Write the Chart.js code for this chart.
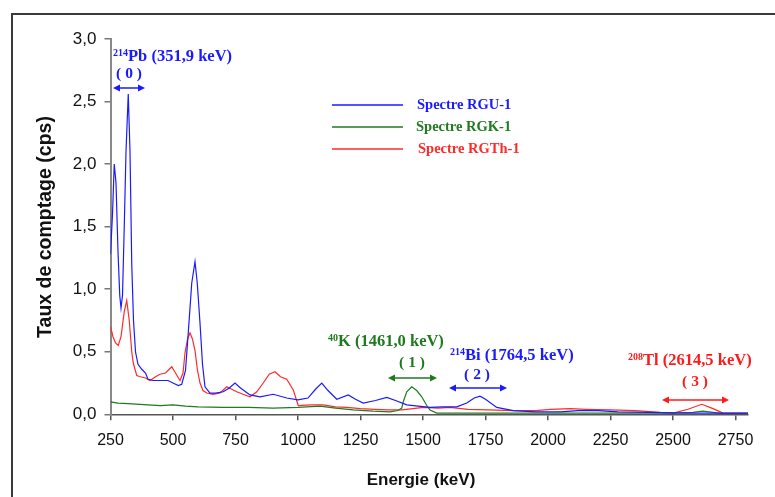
<!DOCTYPE html>
<html>
<head>
<meta charset="utf-8">
<script src="https://cdn.jsdelivr.net/npm/chart.js@4.4.1/dist/chart.umd.min.js"></script>
<style>
  html, body { margin: 0; padding: 0; background: #fff; }
  #wrap { width: 775px; height: 497px; }
</style>
</head>
<body>
<div id="wrap"><canvas id="graph" width="775" height="497"></canvas></div>
<script>
// energies (keV) and counting rates (cps)
var energyU = [250, 258, 265, 272, 280, 287, 292, 298, 305, 312, 321, 328, 335, 342, 350, 360, 375, 390, 400, 420, 440, 461, 480, 500, 521, 535, 550, 561, 575, 588, 597, 608, 618, 628, 648, 670, 701, 725, 748, 770, 808, 848, 901, 955, 1000, 1040, 1070, 1095, 1120, 1155, 1201, 1230, 1261, 1310, 1355, 1390, 1435, 1480, 1528, 1580, 1635, 1675, 1705, 1728, 1750, 1795, 1861, 1950, 2050, 2120, 2200, 2280, 2400, 2550, 2650, 2800];
var countsU = [1.28, 1.6, 2.0, 1.85, 1.3, 0.95, 0.85, 0.95, 1.5, 2.1, 2.56, 2.1, 1.2, 0.75, 0.5, 0.4, 0.36, 0.33, 0.28, 0.27, 0.27, 0.27, 0.27, 0.25, 0.23, 0.24, 0.35, 0.65, 1.05, 1.22, 1.05, 0.73, 0.4, 0.22, 0.17, 0.17, 0.18, 0.21, 0.25, 0.21, 0.155, 0.14, 0.16, 0.13, 0.115, 0.13, 0.2, 0.25, 0.19, 0.12, 0.155, 0.12, 0.09, 0.11, 0.135, 0.11, 0.075, 0.065, 0.055, 0.06, 0.06, 0.09, 0.13, 0.145, 0.12, 0.055, 0.03, 0.02, 0.02, 0.03, 0.03, 0.02, 0.015, 0.01, 0.01, 0.01];

var energyK = [250, 280, 320, 400, 450, 500, 550, 600, 700, 800, 900, 1000, 1088, 1150, 1221, 1300, 1368, 1400, 1415, 1421, 1435, 1455, 1475, 1495, 1515, 1528, 1555, 1700, 2000, 2200, 2500, 2580, 2620, 2660, 2700, 2800];
var countsK = [0.10, 0.09, 0.085, 0.075, 0.07, 0.075, 0.065, 0.06, 0.055, 0.055, 0.05, 0.055, 0.065, 0.05, 0.035, 0.025, 0.02, 0.03, 0.05, 0.1, 0.18, 0.22, 0.19, 0.14, 0.07, 0.035, 0.01, 0.01, 0.01, 0.01, 0.01, 0.015, 0.025, 0.015, 0.005, 0.005];

var energyTh = [250, 260, 270, 281, 292, 305, 315, 325, 335, 341, 355, 370, 390, 408, 430, 448, 470, 495, 510, 528, 540, 548, 558, 568, 578, 588, 598, 608, 620, 635, 660, 688, 715, 735, 755, 780, 808, 835, 861, 885, 908, 930, 955, 981, 1001, 1050, 1101, 1150, 1195, 1250, 1308, 1360, 1415, 1460, 1501, 1560, 1608, 1680, 1760, 1861, 1950, 2010, 2090, 2150, 2250, 2350, 2450, 2501, 2560, 2615, 2660, 2700, 2800];
var countsTh = [0.70, 0.62, 0.57, 0.55, 0.62, 0.82, 0.91, 0.75, 0.5, 0.41, 0.31, 0.3, 0.29, 0.27, 0.3, 0.32, 0.33, 0.38, 0.33, 0.27, 0.33, 0.49, 0.6, 0.65, 0.6, 0.51, 0.35, 0.25, 0.19, 0.17, 0.16, 0.17, 0.22, 0.2, 0.18, 0.16, 0.14, 0.18, 0.25, 0.32, 0.34, 0.3, 0.28, 0.195, 0.07, 0.075, 0.075, 0.06, 0.055, 0.045, 0.04, 0.035, 0.035, 0.045, 0.055, 0.05, 0.055, 0.04, 0.035, 0.03, 0.03, 0.04, 0.045, 0.04, 0.035, 0.03, 0.015, 0.01, 0.04, 0.08, 0.045, 0.01, 0.01];

var xTicks = [250, 500, 750, 1000, 1250, 1500, 1750, 2000, 2250, 2500, 2750];
var yTicks = [0, 0.5, 1, 1.5, 2, 2.5, 3];

var seriesNames = ['Spectre RGU-1', 'Spectre RGK-1', 'Spectre RGTh-1'];
var seriesColors = ['#1a1aff', '#207a20', '#ff2a2a'];

function toPoints(xs, ys) {
  var pts = [];
  for (var i = 0; i < xs.length; i++) pts.push({x: xs[i], y: ys[i]});
  return pts;
}

// little helpers for the hand-written annotations
function arrow(ctx, x1, x2, y, color) {
  ctx.save();
  ctx.strokeStyle = color;
  ctx.fillStyle = color;
  ctx.lineWidth = 1.5;
  ctx.beginPath();
  ctx.moveTo(x1 + 4, y); ctx.lineTo(x2 - 4, y);
  ctx.stroke();
  ctx.beginPath();
  ctx.moveTo(x1, y); ctx.lineTo(x1 + 7, y - 3.5); ctx.lineTo(x1 + 7, y + 3.5); ctx.closePath();
  ctx.fill();
  ctx.beginPath();
  ctx.moveTo(x2, y); ctx.lineTo(x2 - 7, y - 3.5); ctx.lineTo(x2 - 7, y + 3.5); ctx.closePath();
  ctx.fill();
  ctx.restore();
}

function isotope(ctx, x, y, sup, rest, color) {
  ctx.save();
  ctx.fillStyle = color;
  ctx.textBaseline = 'alphabetic';
  ctx.textAlign = 'left';
  ctx.font = 'bold 10px "Liberation Serif"';
  ctx.fillText(sup, x, y - 5);
  var w = ctx.measureText(sup).width;
  ctx.font = 'bold 16.5px "Liberation Serif"';
  ctx.fillText(rest, x + w, y);
  ctx.restore();
}

function centered(ctx, txt, x, y, color) {
  ctx.save();
  ctx.fillStyle = color;
  ctx.font = 'bold 15.5px "Liberation Serif"';
  ctx.textAlign = 'center';
  ctx.textBaseline = 'middle';
  ctx.fillText(txt, x, y);
  ctx.restore();
}

var decor = {
  id: 'decor',
  beforeDraw: function(chart) {
    var ctx = chart.ctx;
    ctx.save();
    ctx.fillStyle = '#fff';
    ctx.fillRect(0, 0, chart.width, chart.height);
    // outer frame
    ctx.strokeStyle = '#3a3a3a';
    ctx.lineWidth = 2;
    ctx.beginPath();
    ctx.moveTo(12, 497); ctx.lineTo(12, 14); ctx.lineTo(775, 14);
    ctx.stroke();
    ctx.restore();
  },
  afterDraw: function(chart) {
    var ctx = chart.ctx;
    ctx.save();
    // axis titles
    ctx.fillStyle = '#111';
    ctx.font = 'bold 17px "Liberation Sans"';
    ctx.textAlign = 'center';
    ctx.textBaseline = 'middle';
    ctx.fillText('Energie (keV)', 421, 480);
    ctx.translate(46, 227);
    ctx.rotate(-Math.PI / 2);
    ctx.font = 'bold 19.5px "Liberation Sans"';
    ctx.fillText('Taux de comptage (cps)', 0, 0);
    ctx.restore();

    // legend
    ctx.save();
    var ly = [105, 127, 149];
    var lx = [417, 416, 418];
    for (var i = 0; i < seriesNames.length; i++) {
      ctx.strokeStyle = seriesColors[i];
      ctx.lineWidth = 1.3;
      ctx.beginPath();
      ctx.moveTo(332, ly[i]); ctx.lineTo(403, ly[i]);
      ctx.stroke();
      ctx.fillStyle = seriesColors[i];
      ctx.font = 'bold 14.5px "Liberation Serif"';
      ctx.textBaseline = 'middle';
      ctx.fillText(seriesNames[i], lx[i], ly[i]);
    }
    ctx.restore();

    // peak labels
    var blue = '#1a1aff', green = '#1f7a1f', red = '#ff1a1a';
    isotope(ctx, 113, 61, '214', 'Pb (351,9 keV)', blue);
    centered(ctx, '( 0 )', 129, 74, blue);
    arrow(ctx, 113, 145, 88, blue);

    isotope(ctx, 328, 346, '40', 'K (1461,0 keV)', green);
    centered(ctx, '( 1 )', 412, 363, green);
    arrow(ctx, 388, 437, 378, green);

    isotope(ctx, 450, 360, '214', 'Bi (1764,5 keV)', blue);
    centered(ctx, '( 2 )', 477, 375, blue);
    arrow(ctx, 449, 507, 388, blue);

    isotope(ctx, 628, 365, '208', 'Tl (2614,5 keV)', red);
    centered(ctx, '( 3 )', 695, 382, red);
    arrow(ctx, 662, 729, 400, red);
  }
};

var data = {
  datasets: [{
    label: seriesNames[0],
    data: toPoints(energyU, countsU),
    borderColor: seriesColors[0],
  }, {
    label: seriesNames[1],
    data: toPoints(energyK, countsK),
    borderColor: seriesColors[1],
  }, {
    label: seriesNames[2],
    data: toPoints(energyTh, countsTh),
    borderColor: seriesColors[2],
  }]
};

var config = {
  type: 'line',
  data: data,
  options: {
    responsive: false,
    animation: false,
    layout: { padding: { left: 0, top: 39, right: 27, bottom: 0 } },
    elements: {
      point: { radius: 0 },
      line: { borderWidth: 1.2, tension: 0 }
    },
    plugins: {
      legend: { display: false },
      tooltip: { enabled: false }
    },
    scales: {
      x: {
        type: 'linear',
        min: 250,
        max: 2800,
        afterFit: function(s) { s.height = 82.7; },
        afterBuildTicks: function(s) { s.ticks = xTicks.map(function(v) { return {value: v}; }); },
        border: { color: '#555', width: 1.5 },
        grid: { drawOnChartArea: false, drawTicks: true, tickLength: 6, color: '#555', lineWidth: 1.5 },
        ticks: {
          maxRotation: 0,
          autoSkip: false,
          padding: 11,
          color: '#111',
          font: { family: '"Liberation Sans"', size: 16 },
          callback: function(v) { return String(v); }
        }
      },
      y: {
        min: 0,
        max: 3,
        afterFit: function(s) { s.width = 110.5; },
        afterBuildTicks: function(s) { s.ticks = yTicks.map(function(v) { return {value: v}; }); },
        border: { color: '#888', width: 2 },
        grid: { drawOnChartArea: false, drawTicks: true, tickLength: 6, color: '#777', lineWidth: 1.5 },
        ticks: {
          padding: 8,
          color: '#111',
          font: { family: '"Liberation Sans"', size: 17 },
          callback: function(v) { return v.toFixed(1).replace('.', ','); }
        }
      }
    }
  },
  plugins: [decor]
};

var graph = new Chart(document.getElementById('graph'), config);
</script>
</body>
</html>
